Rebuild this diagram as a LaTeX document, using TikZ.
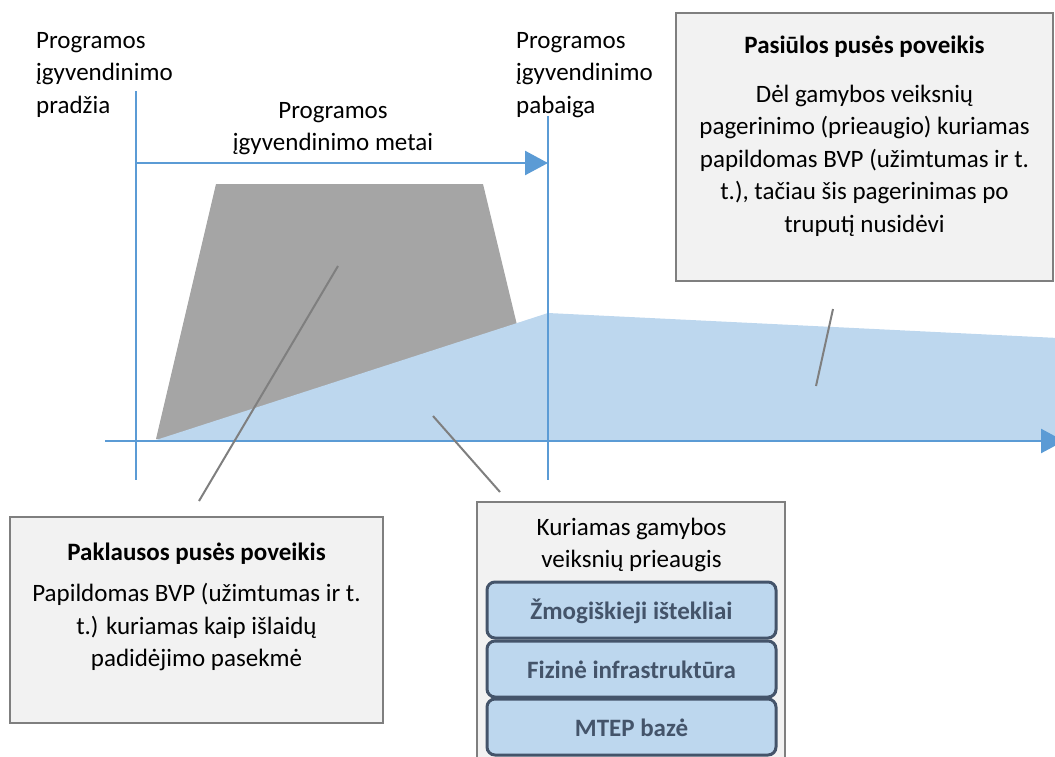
\documentclass[tikz,border=0pt]{standalone}
\usepackage{fontspec}
\setmainfont{Carlito}
\usetikzlibrary{arrows.meta}
\definecolor{accblue}{HTML}{5B9BD5}
\definecolor{lblue}{HTML}{BDD7EE}
\definecolor{areagray}{HTML}{A5A5A5}
\definecolor{linegray}{HTML}{7F7F7F}
\definecolor{boxfill}{HTML}{F2F2F2}
\definecolor{slate}{HTML}{44546A}
\begin{document}
\begin{tikzpicture}[x=1pt,y=-1pt,
  every node/.style={font=\fontsize{25}{32.5}\selectfont, inner sep=0pt},
  tbold/.style={font=\fontsize{25}{32.5}\selectfont\bfseries},
  lbl/.style={align=left, anchor=north west},
  ctr/.style={align=center, anchor=north},
  panel/.style={draw=linegray, fill=boxfill, line width=1.8pt, rectangle},
  factor/.style={draw=slate, fill=lblue, line width=3pt, rounded corners=8pt,
    minimum width=289pt, minimum height=56pt, text=slate,
    font=\fontsize{25}{32.5}\selectfont\bfseries, text height=19pt, text depth=0pt},
  conn/.style={draw=linegray, line width=2pt},
  blueline/.style={draw=accblue, line width=1.2pt},
  bluearrow/.style={draw=accblue, line width=2.5pt, -{Triangle[length=23pt,width=24pt]}}]
\useasboundingbox (0,0) rectangle (1055,756);
\clip (0,0) rectangle (1055,756);

% areas
\fill[areagray] (156,439) -- (216,184) -- (483,184) -- (545,441) -- cycle;
\fill[lblue] (156,440) -- (548,313) -- (1058,338) -- (1058,441) -- cycle;

% time markers
\coordinate (v1t) at (136,91);
\coordinate (v1b) at (136,480);
\coordinate (v2t) at (548,116);
\coordinate (v2b) at (548,480);
\draw[blueline] (v1t) -- (v1b);
\draw[blueline] (v2t) -- (v2b);

\coordinate (a1s) at (136,163);
\coordinate (a1e) at (548,163);
\draw[bluearrow] (a1s) -- (a1e);

\coordinate (x0) at (105,441);
\coordinate (x1) at (1064,441);
\draw[bluearrow] (x0) -- (x1);

% labels
\node[lbl] (start) at (36,25.25) {\strut Programos\\ įgyvendinimo\\ pradžia};
\node[lbl] (end) at (516,25.25) {\strut Programos\\ įgyvendinimo\\ pabaiga};
\node[ctr] (period) at (333,95.25) {\strut Programos\\ įgyvendinimo metai};

% supply box
\node[panel, minimum width=377pt, minimum height=268pt] (supply) at (864.5,147) {};
\node[ctr, tbold] (supplyT) at (864.5,30.75) {\strut Pasiūlos pusės poveikis};
\node[ctr] (supplyB) at (864.5,79.25) {\strut Dėl gamybos veiksnių\\ pagerinimo (prieaugio) kuriamas\\ papildomas BVP (užimtumas ir t.\\ t.), tačiau šis pagerinimas po\\ truputį nusidėvi};

% demand box
\node[panel, minimum width=373pt, minimum height=206pt] (demand) at (196.5,620) {};
\node[ctr, tbold] (demandT) at (196.5,537.25) {\strut Paklausos pusės poveikis};
\node[ctr] (demandB) at (196.5,578.75) {\strut Papildomas BVP (užimtumas ir t.\\ t.) kuriamas kaip išlaidų\\ padidėjimo pasekmė};

% growth box
\node[panel, minimum width=308pt, minimum height=256pt] (growth) at (631,630) {};
\node[ctr] (growthT) at (631.5,512.25) {\strut Kuriamas gamybos\\ veiksnių prieaugis};
\node[factor] (f1) at (631.5,610) {Žmogiškieji ištekliai};
\node[factor] (f2) at (631.5,669) {Fizinė infrastruktūra};
\node[factor] (f3) at (631.5,727) {MTEP bazė};

% connectors
\coordinate (c1a) at (338,266);
\coordinate (c1b) at (199,501);
\coordinate (c2a) at (433,416);
\coordinate (c2b) at (500,492);
\coordinate (c3a) at (833,309);
\coordinate (c3b) at (816,386);
\draw[conn] (c1a) -- (c1b);
\draw[conn] (c2a) -- (c2b);
\draw[conn] (c3a) -- (c3b);
\end{tikzpicture}
\end{document}
